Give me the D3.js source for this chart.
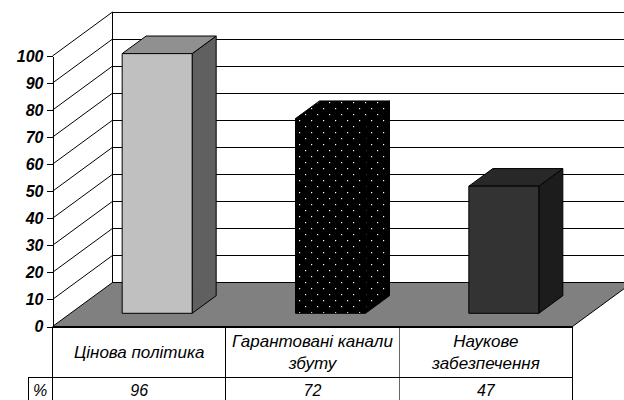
<!DOCTYPE html>
<html>
<head>
<meta charset="utf-8">
<script src="https://cdn.jsdelivr.net/npm/d3@7"></script>
<style>
  html, body { margin: 0; padding: 0; background: #fff; }
  svg { display: block; }
  text { font-family: "Liberation Sans", Arial, sans-serif; font-style: italic; fill: #000; }
</style>
</head>
<body>
<svg id="chart"></svg>
<script>
const categories = [["Цінова політика"], ["Гарантовані канали", "збуту"], ["Наукове", "забезпечення"]];
const values = [96, 72, 47];
const yTicks = [0, 10, 20, 30, 40, 50, 60, 70, 80, 90, 100];
const rowLabel = "%";

const w = 624, h = 400;
const depthX = 60, depthY = -44;   // how far the back wall is shifted
const barFrom = 0.3, barTo = 0.7;  // bar position inside the floor depth

const svg = d3.select("#chart").attr("width", w).attr("height", h);

const y = d3.scaleLinear().domain([0, 100]).range([326.5, 56]);
const x = d3.scaleBand().domain(d3.range(categories.length)).range([52.5, 572.5]);
const barW = 70;

const pts = a => a.map(p => p.join(",")).join(" ");
const shift = (px, py, t) => [px + depthX * t, py + depthY * t];

// dots for the middle bar
const defs = svg.append("defs");
const dots = defs.append("pattern")
    .attr("id", "dots")
    .attr("patternUnits", "userSpaceOnUse")
    .attr("width", 12).attr("height", 12)
    .attr("x", 299).attr("y", 276);
dots.append("rect").attr("width", 12).attr("height", 12).attr("fill", "#000");
dots.append("rect").attr("x", 0).attr("y", 0).attr("width", 1.2).attr("height", 1.2).attr("fill", "#fff");
dots.append("rect").attr("x", 6).attr("y", 6).attr("width", 1.2).attr("height", 1.2).attr("fill", "#fff");

const faces = [
  {front: "#c0c0c0", top: "#909090", side: "#606060", stroke: "#000"},
  {front: "url(#dots)", top: "url(#dots)", side: "url(#dots)", stroke: "#000"},
  {front: "#333333", top: "#282828", side: "#1c1c1c", stroke: "#000"}
];

// floor
svg.append("polygon")
    .attr("points", pts([[x.range()[0], y(0)], [x.range()[1], y(0)],
      shift(x.range()[1], y(0), 1), shift(x.range()[0], y(0), 1)]))
    .attr("fill", "#808080");

// back wall grid and side wall lines
const grid = svg.append("g").attr("fill", "none").attr("stroke", "#000").attr("stroke-width", 1);
grid.selectAll(".back").data(yTicks).enter().append("line")
    .attr("x1", x.range()[0] + depthX).attr("x2", w)
    .attr("y1", d => y(d) + depthY).attr("y2", d => y(d) + depthY)
    .attr("shape-rendering", "crispEdges");
grid.selectAll(".side").data(yTicks).enter().append("line")
    .attr("x1", x.range()[0]).attr("y1", d => y(d))
    .attr("x2", x.range()[0] + depthX).attr("y2", d => y(d) + depthY);
grid.append("line")
    .attr("x1", x.range()[0] + depthX).attr("x2", x.range()[0] + depthX)
    .attr("y1", y(100) + depthY).attr("y2", y(0) + depthY)
    .attr("shape-rendering", "crispEdges");
grid.append("line")
    .attr("x1", x.range()[1]).attr("y1", y(0))
    .attr("x2", x.range()[1] + depthX).attr("y2", y(0) + depthY);

// bars
const bars = svg.append("g").selectAll("g").data(values).enter().append("g")
    .attr("stroke-width", 1).attr("stroke-linejoin", "round");

function corners(v, i) {
  const left = x(i) + (x.bandwidth() - barW) / 2;
  return {left, right: left + barW, top: y(v), base: y(0)};
}
bars.append("polygon")
    .attr("fill", (d, i) => faces[i].side).attr("stroke", (d, i) => faces[i].stroke)
    .attr("points", (d, i) => {
      const c = corners(d, i);
      return pts([shift(c.right, c.top, barFrom), shift(c.right, c.top, barTo),
        shift(c.right, c.base, barTo), shift(c.right, c.base, barFrom)]);
    });
bars.append("polygon")
    .attr("fill", (d, i) => faces[i].top).attr("stroke", (d, i) => faces[i].stroke)
    .attr("points", (d, i) => {
      const c = corners(d, i);
      return pts([shift(c.left, c.top, barFrom), shift(c.right, c.top, barFrom),
        shift(c.right, c.top, barTo), shift(c.left, c.top, barTo)]);
    });
bars.append("polygon")
    .attr("fill", (d, i) => faces[i].front).attr("stroke", (d, i) => faces[i].stroke)
    .attr("points", (d, i) => {
      const c = corners(d, i);
      return pts([shift(c.left, c.top, barFrom), shift(c.right, c.top, barFrom),
        shift(c.right, c.base, barFrom), shift(c.left, c.base, barFrom)]);
    });

// value axis
const axis = svg.append("g")
    .attr("transform", `translate(${x.range()[0]},0)`)
    .call(d3.axisLeft(y).tickValues(yTicks).tickSize(6).tickSizeOuter(0).tickPadding(3));
axis.selectAll("path, line").attr("stroke", "#000").attr("shape-rendering", "crispEdges");
axis.selectAll("text")
    .attr("font-family", "Liberation Sans")
    .attr("font-size", 16).attr("font-weight", "bold");

// data table under the chart
const rowY = 377, tableBottom = h;
const table = svg.append("g").attr("stroke", "#000").attr("shape-rendering", "crispEdges");
table.selectAll(".v").data(d3.range(categories.length + 1)).enter().append("line")
    .attr("x1", i => x.range()[0] + i * x.step()).attr("x2", i => x.range()[0] + i * x.step())
    .attr("y1", y(0)).attr("y2", tableBottom)
    .attr("stroke", i => i === 2 ? "#666" : "#000");
table.append("line").attr("x1", 28.5).attr("x2", x.range()[1]).attr("y1", rowY + .5).attr("y2", rowY + .5);
table.append("line").attr("x1", 28.5).attr("x2", 28.5).attr("y1", rowY).attr("y2", tableBottom);
table.append("line").attr("x1", x.range()[0]).attr("x2", x.range()[1])
    .attr("y1", y(0)).attr("y2", y(0)).attr("stroke-width", 2);

const labels = svg.append("g").attr("text-anchor", "middle").attr("font-size", 17);
categories.forEach((lines, i) => {
  const cx = x(i) + x.bandwidth() / 2;
  const first = lines.length === 1 ? 358 : 347;
  lines.forEach((line, k) => {
    labels.append("text").attr("x", cx).attr("y", first + k * 22).text(line);
  });
  labels.append("text").attr("x", cx).attr("y", 396).attr("font-size", 16).text(values[i]);
});
labels.append("text").attr("x", 40).attr("y", 396).attr("font-size", 16).text(rowLabel);
</script>
</body>
</html>
